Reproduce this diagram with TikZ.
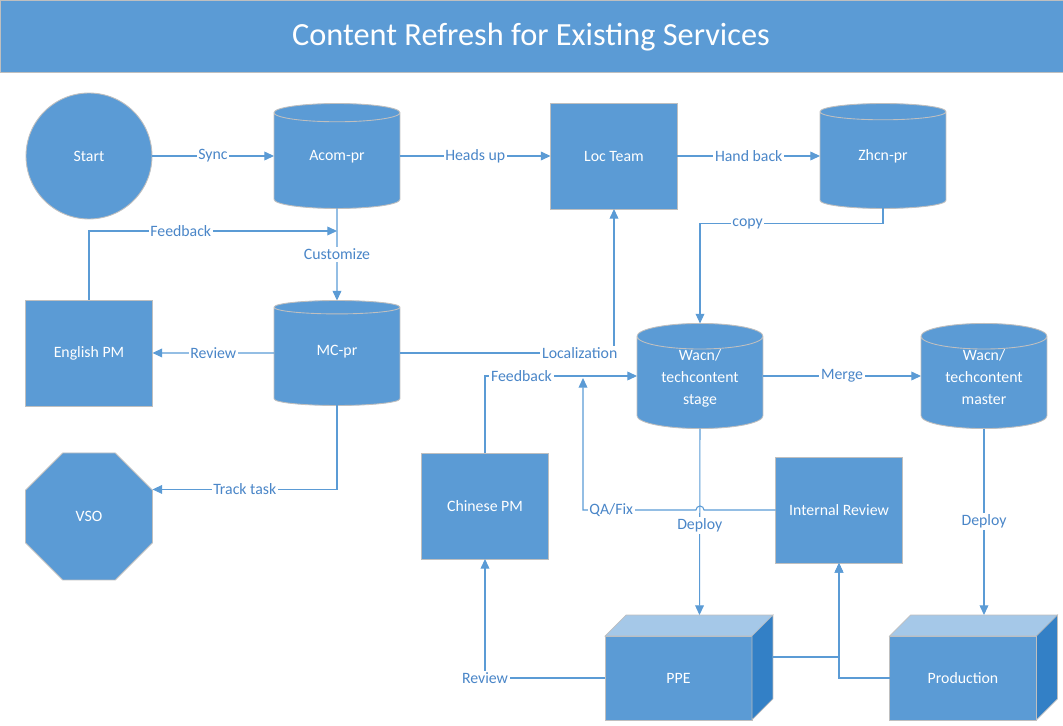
\documentclass[tikz,border=0pt]{standalone}
\usepackage{fontspec}
\setmainfont{Carlito}
\usetikzlibrary{shapes.geometric,arrows.meta,positioning,calc}
\definecolor{boxblue}{HTML}{5B9BD5}
\definecolor{edgegray}{HTML}{BFBFBF}
\definecolor{topblue}{HTML}{A5C8E8}
\definecolor{sideblue}{HTML}{3380C6}
\definecolor{lblblue}{HTML}{4A86C8}
\tikzset{
  base/.style={draw=edgegray,line width=0.5pt,fill=boxblue,text=white,font=\fontsize{9}{11}\selectfont,align=center,inner sep=0pt,outer sep=0pt},
  proc/.style={base,rectangle,minimum width=2.54cm,minimum height=2.12cm},
  db/.style={base,cylinder,shape border rotate=90,aspect=0.33,minimum width=2.52cm,minimum height=2.1cm,anchor=shape center,font=\fontsize{9}{12.5}\selectfont,text depth=6.5pt},
  term/.style={base,circle,minimum size=2.52cm},
  stopper/.style={base,regular polygon,regular polygon sides=8,minimum size=2.75cm},
  server/.style={base,rectangle,minimum width=2.94cm,minimum height=1.68cm},
  arr/.style={-{Triangle[length=5.5pt,width=5pt]},draw=boxblue,line width=0.6pt},
  lbl/.style={fill=white,text=lblblue,font=\fontsize{9}{11}\selectfont,inner sep=1pt}
}

\begin{document}
\begin{tikzpicture}[x=0.02cm,y=-0.02cm]
\useasboundingbox (0,0) rectangle (1063,726);
% title bar
\path[fill=boxblue,draw=edgegray] (0,0) rectangle (1063,72);
\node[text=white,font=\fontsize{18.4}{22}\selectfont] (title) at (531,37) {Content Refresh for Existing Services};

% nodes
\node[term] (start) at (89,156) {Start};
\node[db] (acom) at (337,156) {Acom-pr};
\node[proc] (loc) at (614,156) {Loc Team};
\node[db] (zhcn) at (883,156) {Zhcn-pr};
\node[proc, below=1.62cm of start] (eng) {English PM};
\node[db] (mc) at (337,353) {MC-pr};
\node[stopper, below=0.94cm of eng] (vso) {VSO};
\node[db] (stage) at (700,376) {Wacn/\\techcontent\\stage};
\node[db] (master) at (984,376) {Wacn/\\techcontent\\master};
\node[proc] (cpm) at (485,506) {Chinese PM};
\node[proc] (ir) at (839,510) {Internal Review};
\node[server] (ppe) at (678.5,678) {PPE};
\node[server] (prod) at (963,678) {Production};

% 3d faces of the servers
\foreach \n in {ppe,prod} {
  \draw[draw=edgegray,fill=topblue] (\n.north west) -- ++(21,-21) -- ($(\n.north east)+(21,-21)$) -- (\n.north east) -- cycle;
  \draw[draw=edgegray,fill=sideblue] (\n.north east) -- ++(21,-21) -- ($(\n.south east)+(21,-21)$) -- (\n.south east) -- cycle;
}

\coordinate (ppetop) at ($(ppe.north)+(21,-21)$);
\coordinate (prodtop) at ($(prod.north)+(21,-21)$);
\coordinate (ppeside) at ($(ppe.east)+(21,-21)$);
\coordinate (fbin) at (337,231);
\coordinate (qain) at (583,378);
\coordinate (vsoin) at ($(vso.east)+(0,-27)$);

% connectors
\draw[arr] (start) -- node[lbl]{Sync} (acom.west |- acom.shape center);
\draw[arr] (acom.east |- acom.shape center) -- node[lbl]{Heads up} (loc);
\draw[arr] (loc) -- node[lbl]{Hand back} (zhcn.west |- zhcn.shape center);
\draw[arr] (zhcn.south) -- ++(0,15) -| node[lbl,pos=0.37]{copy} (stage.north);
\draw[arr] (acom.south) -- node[lbl]{Customize} (mc.north);
\draw[arr] (eng) |- node[lbl,pos=0.685]{Feedback} (fbin);
\draw[arr] (mc.west |- mc.shape center) -- node[lbl]{Review} (eng);
\draw[arr] (mc.south) |- node[lbl,pos=0.75]{Track task} (vsoin);
\draw[arr] (mc.east |- mc.shape center) -| node[lbl,pos=0.42]{Localization} (loc);
\draw[arr] (cpm) |- node[lbl,pos=0.62]{Feedback} (stage.west |- stage.shape center);
\draw[arr] (stage.south) -- node[lbl,pos=0.52]{Deploy} (ppetop);
\draw[arr] (ir) -- (704,510) arc[start angle=0,end angle=180,radius=0.08cm] -- node[lbl,pos=0.75]{QA/Fix} (583,510) -- (qain);
\draw[arr] (stage.east |- stage.shape center) -- node[lbl]{Merge} (master.west |- master.shape center);
\draw[arr] (master.south) -- node[lbl]{Deploy} (prodtop);
\draw[arr] (ppe) -| node[lbl]{Review} (cpm);
\draw[arr] (ppeside) -| (ir);
\draw[arr] (prod) -| (ir);
\end{tikzpicture}
\end{document}
